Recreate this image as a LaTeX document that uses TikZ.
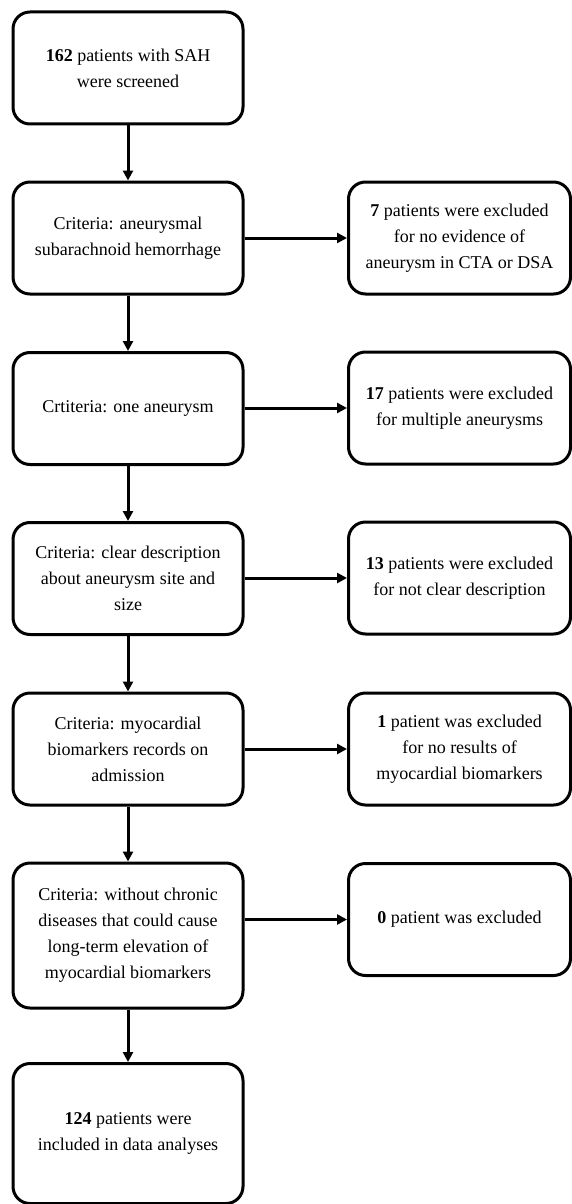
\documentclass[tikz,border=0pt]{standalone}
\usepackage{fontspec}
\setmainfont{Liberation Serif}
\usetikzlibrary{positioning,arrows.meta}

\tikzset{
  stage/.style={draw, line width=3pt, rounded corners=17pt, align=center,
    minimum width=230pt, minimum height=112pt, inner sep=2pt,
    font=\fontsize{18}{26}\selectfont},
  excl/.style={stage, minimum width=222pt},
  flow/.style={line width=3pt, -{Triangle[length=10pt,width=10pt]}}
}

\begin{document}
\begin{tikzpicture}[x=1pt,y=-1pt]
	
	\useasboundingbox (0,0) rectangle (572,1204);
	
	% main column
	\node[stage] (c1) at (128,68) {\textbf{162} patients with SAH\\were screened};
	\node[stage] (c2) at (128,238) {Criteria: aneurysmal\\subarachnoid hemorrhage};
	\node[stage] (c3) at (128,408.5) {Crtiteria: one aneurysm};
	\node[stage] (c4) at (128,578.5) {Criteria: clear description\\about aneurysm site and\\size};
	\node[stage] (c5) at (128,749) {Criteria: myocardial\\biomarkers records on\\admission};
	\node[stage, minimum height=145pt] (c6) at (128,935.5) {Criteria: without chronic\\diseases that could cause\\long-term elevation of\\myocardial biomarkers};
	\node[stage, minimum height=140pt] (c7) at (128,1133.5) {\textbf{124} patients were\\included in data analyses};
	
	% excluded
	\node[excl] (e2) at (459.5,238) {\textbf{7} patients were excluded\\for no evidence of\\aneurysm in CTA or DSA};
	\node[excl] (e3) at (459.5,408) {\textbf{17} patients were excluded\\for multiple aneurysms};
	\node[excl] (e4) at (459.5,578) {\textbf{13} patients were excluded\\for not clear description};
	\node[excl] (e5) at (459.5,749) {\textbf{1} patient was excluded\\for no results of\\myocardial biomarkers};
	\node[excl] (e6) at (459.5,919.5) {\textbf{0} patient was excluded};
	
	\foreach \i/\j in {1/2,2/3,3/4,4/5,5/6,6/7}
		\draw[flow] (c\i) -- (c\j);
	
	\foreach \i in {2,...,6}
		\draw[flow] (e\i.west -| c\i.east) -- (e\i.west);
	
\end{tikzpicture}
\end{document}
